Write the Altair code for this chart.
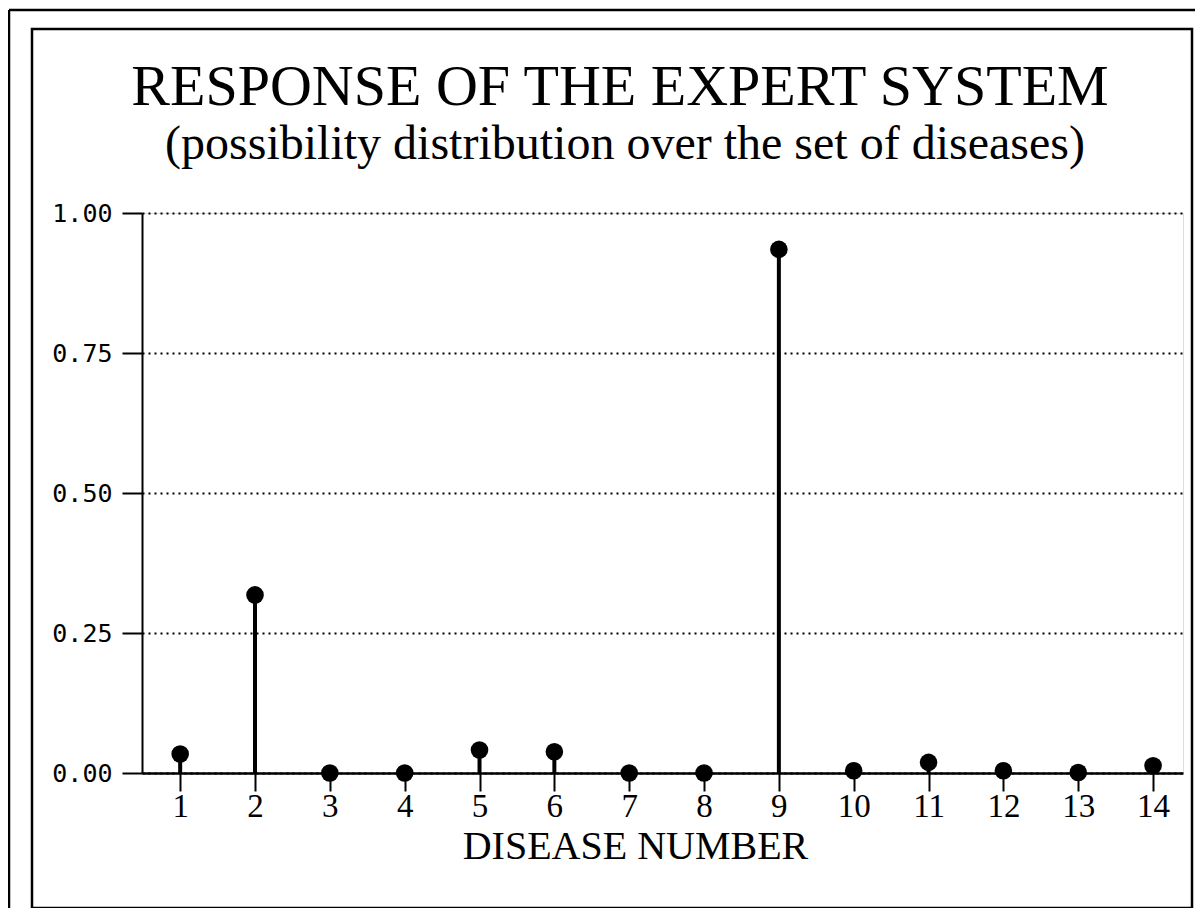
import altair as alt
import pandas as pd

disease = list(range(1, 15))
possibility = [0.034, 0.318, 0.0, 0.0, 0.041, 0.038, 0.0, 0.0, 0.935, 0.004, 0.019, 0.004, 0.001, 0.013]
y_ticks = [0.0, 0.25, 0.5, 0.75, 1.0]

title_text = "RESPONSE OF THE EXPERT SYSTEM"
subtitle_text = "(possibility distribution over the set of diseases)"
x_title = "DISEASE NUMBER"

df = pd.DataFrame({"disease": disease, "possibility": possibility})

x_scale = alt.Scale(domain=[0.49, 14.4], nice=False, zero=False)
y_scale = alt.Scale(domain=[0, 1], nice=False)

x_enc = alt.X(
    "disease:Q",
    scale=x_scale,
    axis=alt.Axis(
        values=disease,
        format="d",
        grid=False,
        domainColor="black",
        domainWidth=2.5,
        tickColor="black",
        tickWidth=2,
        tickSize=18,
        labelFont="Liberation Serif",
        labelFontSize=33,
        labelColor="black",
        labelPadding=-1,
        title=x_title,
        titleFont="Liberation Serif",
        titleFontSize=40,
        titleFontWeight="normal",
        titleColor="black",
        titleX=493,
        titleY=85,
        titleAlign="center",
        titleBaseline="alphabetic",
    ),
)
y_enc = alt.Y(
    "possibility:Q",
    scale=y_scale,
    axis=alt.Axis(
        values=y_ticks,
        format=".2f",
        grid=True,
        gridColor="black",
        gridDash=[2, 4],
        gridWidth=2,
        gridOpacity=1,
        domainColor="black",
        domainWidth=2,
        tickColor="black",
        tickWidth=2,
        tickSize=20,
        labelFont="DejaVu Sans Mono",
        labelFontSize=25,
        labelColor="black",
        labelPadding=10,
        title=None,
    ),
)

stems = alt.Chart(df).mark_rule(color="black", strokeWidth=4).encode(
    x=x_enc, y=y_enc, y2=alt.datum(0)
)
points = alt.Chart(df).mark_circle(color="black", opacity=1, size=310).encode(
    x=alt.X("disease:Q", scale=x_scale), y=alt.Y("possibility:Q", scale=y_scale)
)

one = alt.Data(values=[{"a": 1}])
inner_frame = alt.Chart(one).mark_rect(filled=False, stroke="black", strokeWidth=2.5).encode(
    x=alt.value(-110), x2=alt.value(1050), y=alt.value(-184), y2=alt.value(695)
)
outer_left = alt.Chart(one).mark_rule(color="black", strokeWidth=2.5).encode(
    x=alt.value(-133), y=alt.value(-203), y2=alt.value(720)
)
outer_top = alt.Chart(one).mark_rule(color="black", strokeWidth=2.5).encode(
    x=alt.value(-133), x2=alt.value(1070), y=alt.value(-203)
)

title_mark = alt.Chart(one).mark_text(
    text=title_text,
    font="Liberation Serif",
    fontSize=58,
    color="black",
    align="center",
    baseline="alphabetic",
).encode(x=alt.value(478), y=alt.value(-108))

subtitle_mark = alt.Chart(one).mark_text(
    text=subtitle_text,
    font="Liberation Serif",
    fontSize=48,
    color="black",
    align="center",
    baseline="alphabetic",
).encode(x=alt.value(483), y=alt.value(-54))

chart = (
    alt.layer(outer_left, outer_top, inner_frame, title_mark, subtitle_mark, stems, points)
    .properties(
        width=1041,
        height=560,
        autosize=alt.AutoSizeParams(type="none"),
        padding={"left": 134, "top": 205, "right": 12, "bottom": 135},
    )
    .configure_view(strokeWidth=0)
    .configure(background="white")
)

chart.save("out.html", embed_options={"renderer": "svg", "actions": False})
